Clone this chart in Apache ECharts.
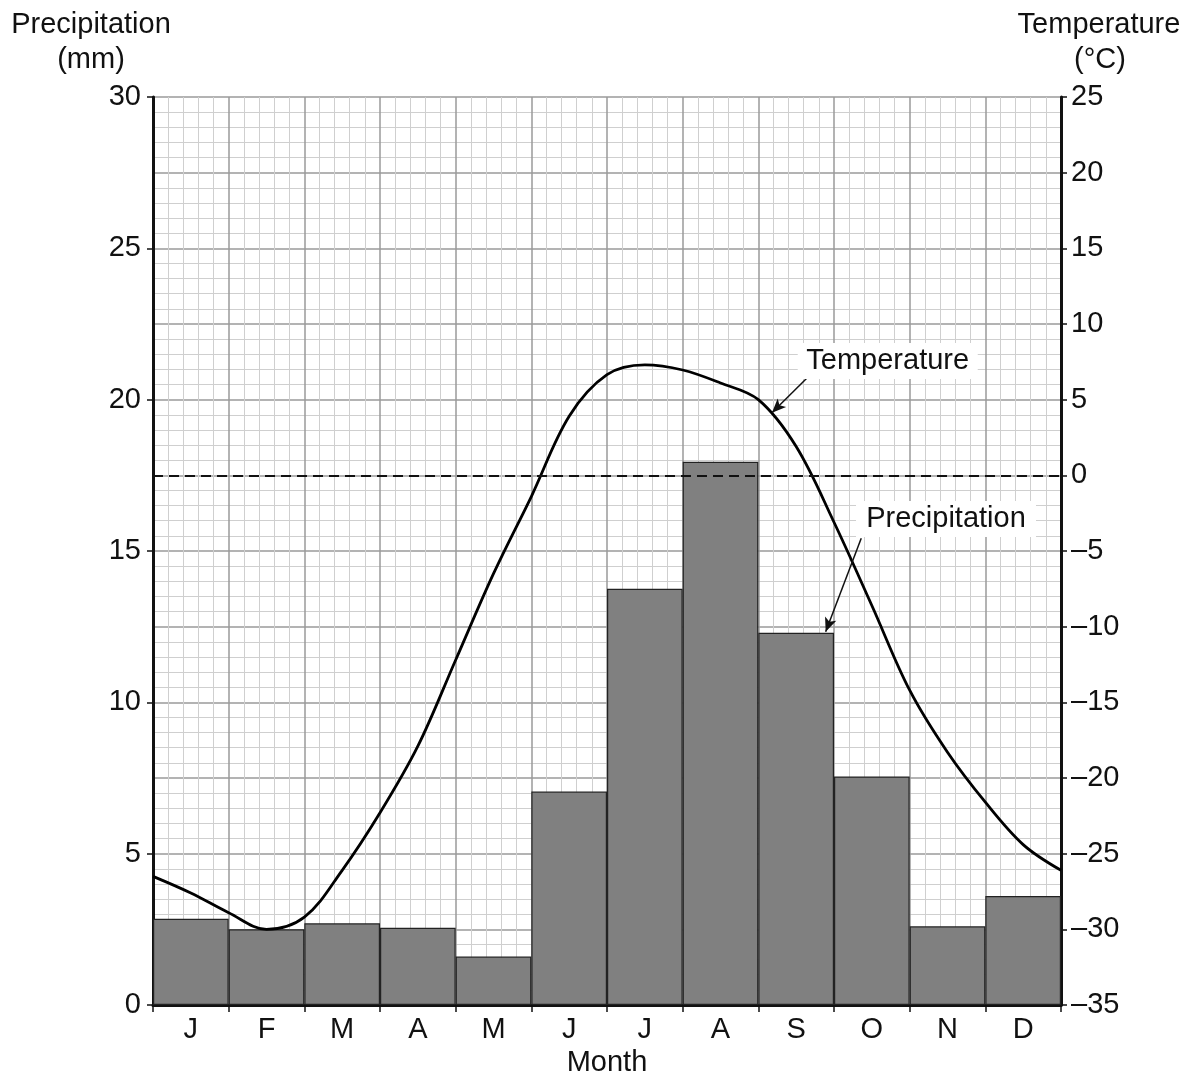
<!DOCTYPE html>
<html>
<head>
<meta charset="utf-8">
<script src="https://cdn.jsdelivr.net/npm/echarts@6/dist/echarts.min.js"></script>
<style>html,body{margin:0;padding:0;background:#fff}#c{width:1188px;height:1077px}</style>
</head>
<body>
<div id="c"></div>
<script>
const months = ['J','F','M','A','M','J','J','A','S','O','N','D'];
const precipitation = [2.85, 2.5, 2.7, 2.55, 1.6, 7.05, 13.75, 17.95, 12.3, 7.55, 2.6, 3.6];
const tempMonthPos = [0, 0.5, 1, 1.5, 2, 2.5, 3, 3.5, 4, 4.5, 5, 5.5, 6, 6.5, 7, 7.5, 8, 8.5, 9, 9.5, 10, 10.5, 11, 11.5, 12];
const temperature = [-26.5, -27.6, -28.9, -30.0, -29.2, -26.1, -22.3, -17.9, -12.2, -6.5, -1.4, 3.9, 6.65, 7.3, 6.96, 6.1, 5.0, 1.9, -3.1, -8.6, -14.2, -18.3, -21.6, -24.4, -26.1];
const precipTicks = {min: 0, max: 30, interval: 5};
const tempTicks = {min: -35, max: 25, interval: 5};

const FONT = "'Liberation Sans', Arial, sans-serif";
const FS = 29;
const chart = echarts.init(document.getElementById('c'));
const tempData = tempMonthPos.map((m, i) => [m, temperature[i]]);

chart.setOption({
  animation: false,
  backgroundColor: '#fff',
  textStyle: {fontFamily: FONT},
  grid: {left: 153, right: 127, top: 97, bottom: 72},
  xAxis: [
    {
      type: 'category', data: months, position: 'bottom', boundaryGap: true,
      axisLine: {show: true, lineStyle: {color: '#111', width: 3}},
      axisTick: {show: true, length: 7, lineStyle: {color: '#111', width: 1.5}},
      axisLabel: {fontSize: FS, color: '#111', margin: 10, fontFamily: FONT},
      splitLine: {show: false}
    },
    {
      type: 'value', position: 'top', min: 0, max: 12, interval: 1,
      axisLine: {show: false}, axisTick: {show: false}, axisLabel: {show: false},
      splitLine: {show: true, lineStyle: {color: '#9a9a9a', width: 1.5}},
      minorTick: {show: false, splitNumber: 5},
      minorSplitLine: {show: true, lineStyle: {color: '#cfcfcf', width: 1}}
    }
  ],
  yAxis: [
    {
      type: 'value', position: 'left', min: precipTicks.min, max: precipTicks.max, interval: precipTicks.interval,
      axisLine: {show: true, lineStyle: {color: '#111', width: 3}},
      axisTick: {show: true, length: 6, lineStyle: {color: '#111', width: 1.5}},
      axisLabel: {fontSize: FS, color: '#111', margin: 12, fontFamily: FONT},
      splitLine: {show: false}
    },
    {
      type: 'value', position: 'right', min: tempTicks.min, max: tempTicks.max, interval: tempTicks.interval,
      axisLine: {show: true, lineStyle: {color: '#111', width: 3}},
      axisTick: {show: true, length: 6, lineStyle: {color: '#111', width: 1.5}},
      axisLabel: {fontSize: FS, color: '#111', margin: 10, fontFamily: FONT,
        formatter: v => String(v).replace('-', '\u2013')},
      splitLine: {show: true, lineStyle: {color: '#9a9a9a', width: 1.5}},
      minorTick: {show: false, splitNumber: 5},
      minorSplitLine: {show: true, lineStyle: {color: '#cfcfcf', width: 1}}
    }
  ],
  series: [
    {
      name: 'Precipitation', type: 'bar', xAxisIndex: 0, yAxisIndex: 0,
      data: precipitation, barCategoryGap: '0%',
      itemStyle: {color: '#808080', borderColor: '#222', borderWidth: 1.2},
      z: 2
    },
    {
      name: 'Temperature', type: 'line', xAxisIndex: 1, yAxisIndex: 1,
      data: tempData, smooth: 0.35, showSymbol: false, symbol: 'none',
      lineStyle: {color: '#000', width: 2.8},
      z: 4,
      markLine: {
        silent: true, animation: false,
        data: [
          [{coord: [0, 0], symbol: 'none', lineStyle: {type: [10, 6], width: 1.8, color: '#111'}}, {coord: [12, 0], symbol: 'none'}],
          [{coord: [8.64, 6.41], symbol: 'none'}, {coord: [8.18, 4.14], symbol: 'arrow'}],
          [{coord: [9.36, -4.16], symbol: 'none'}, {coord: [8.89, -10.33], symbol: 'arrow'}]
        ],
        symbolSize: [9, 14],
        label: {show: false},
        lineStyle: {color: '#111', width: 1.5, type: 'solid'}
      },
      markPoint: {
        silent: true, animation: false,
        symbol: 'rect',
        data: [
          {coord: [9.71, 7.55], symbolSize: [180, 36], value: 'Temperature'},
          {coord: [10.48, -2.89], symbolSize: [180, 36], value: 'Precipitation'}
        ],
        itemStyle: {color: '#fff'},
        label: {show: true, position: 'inside', color: '#111', fontSize: FS, fontFamily: FONT,
          formatter: p => p.value}
      }
    }
  ],
  graphic: [
    {type: 'text', x: 91, y: 25, style: {text: 'Precipitation', font: FS + 'px ' + FONT, fill: '#111', textAlign: 'center', textVerticalAlign: 'middle'}},
    {type: 'text', x: 91, y: 60, style: {text: '(mm)', font: FS + 'px ' + FONT, fill: '#111', textAlign: 'center', textVerticalAlign: 'middle'}},
    {type: 'text', x: 1099, y: 25, style: {text: 'Temperature', font: FS + 'px ' + FONT, fill: '#111', textAlign: 'center', textVerticalAlign: 'middle'}},
    {type: 'text', x: 1100, y: 60, style: {text: '(°C)', font: FS + 'px ' + FONT, fill: '#111', textAlign: 'center', textVerticalAlign: 'middle'}},
    {type: 'text', x: 607, y: 1063, style: {text: 'Month', font: FS + 'px ' + FONT, fill: '#111', textAlign: 'center', textVerticalAlign: 'middle'}}
  ]
});
</script>
</body>
</html>
